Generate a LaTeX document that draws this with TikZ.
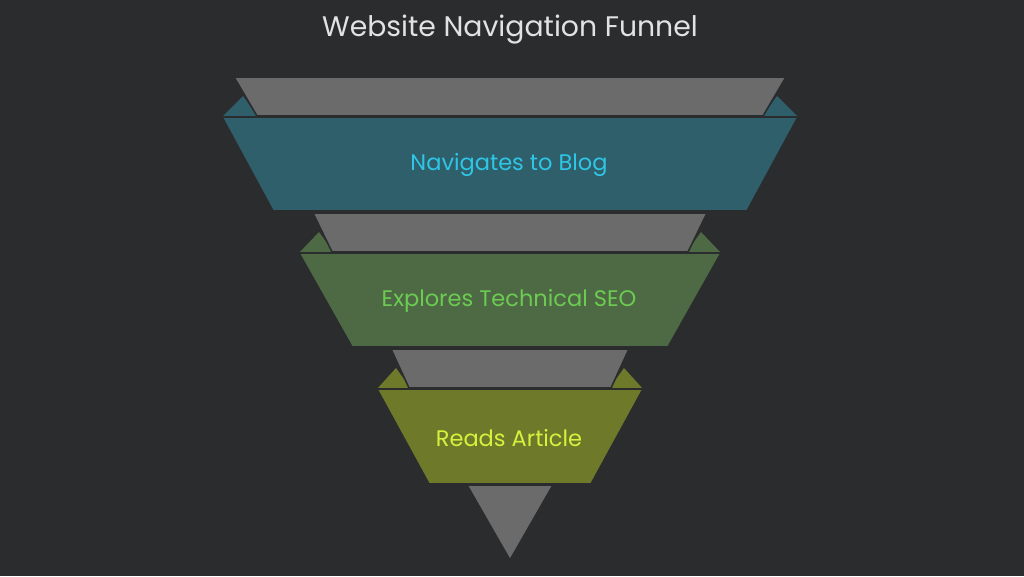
\documentclass[tikz,border=0pt]{standalone}
\usepackage{fontspec}
\setmainfont{Poppins}
\definecolor{bgc}{HTML}{2B2C2E}
\definecolor{grayband}{HTML}{6B6B6B}
\definecolor{tealband}{HTML}{2E5F6B}
\definecolor{greenband}{HTML}{4E6A44}
\definecolor{oliveband}{HTML}{6E7A2A}
\definecolor{tealtext}{HTML}{2FC6E6}
\definecolor{greentext}{HTML}{6CCB52}
\definecolor{olivetext}{HTML}{D6F23E}
\definecolor{titletext}{HTML}{E2E2E2}
\begin{document}
\begin{tikzpicture}[x=1pt,y=-1pt,
  band/.style={draw=bgc,line width=1.6pt,line join=miter},
  lbl/.style={font=\fontsize{22.5}{26}\selectfont,anchor=center}]
\fill[bgc] (0,0) rectangle (1024,576);
\useasboundingbox (0,0) rectangle (1024,576);
% title
\node[font=\fontsize{28.3}{32}\selectfont,text=titletext] (title) at (510,30) {Website Navigation Funnel};
% fold triangles (behind gray bands)
\fill[tealband] (222,117) -- (243,96) -- (258,117) -- cycle;
\fill[tealband] (798,117) -- (777,96) -- (762,117) -- cycle;
\fill[greenband] (299,253) -- (319,232) -- (334,253) -- cycle;
\fill[greenband] (721,253) -- (701,232) -- (686,253) -- cycle;
\fill[oliveband] (377,389) -- (396,368) -- (411,389) -- cycle;
\fill[oliveband] (643,389) -- (624,368) -- (609,389) -- cycle;
% gray bands
\filldraw[band,fill=grayband] (234,77) -- (786,77) -- (763,116) -- (257,116) -- cycle;
\filldraw[band,fill=grayband] (313,213) -- (707,213) -- (688,252) -- (332,252) -- cycle;
\filldraw[band,fill=grayband] (391,349) -- (629,349) -- (611,388) -- (409,388) -- cycle;
\filldraw[band,fill=grayband] (467,485) -- (553,485) -- (510,560) -- cycle;
% coloured bands
\filldraw[band,fill=tealband] (222,117) -- (798,117) -- (747,211) -- (273,211) -- cycle;
\filldraw[band,fill=greenband] (299,253) -- (721,253) -- (668,347) -- (352,347) -- cycle;
\filldraw[band,fill=oliveband] (377,389) -- (643,389) -- (591,484) -- (429,484) -- cycle;
% labels
\node[lbl,text=tealtext] (l1) at (509,165) {Navigates to Blog};
\node[lbl,text=greentext] (l2) at (509,301) {Explores Technical SEO};
\node[lbl,text=olivetext] (l3) at (509,438) {Reads Article};
\end{tikzpicture}
\end{document}
